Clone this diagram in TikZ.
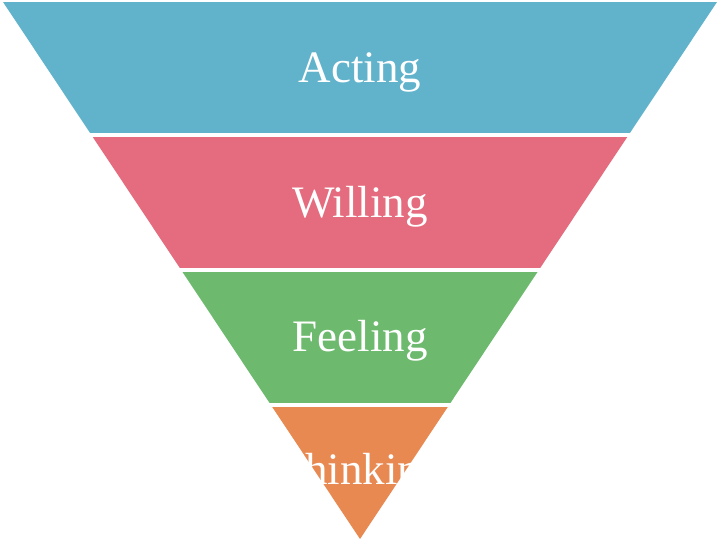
\documentclass[tikz,border=0pt]{standalone}
\usepackage{fontspec}
\setmainfont{Liberation Serif}
\definecolor{fnblue}{RGB}{97,179,204}
\definecolor{fnpink}{RGB}{229,108,126}
\definecolor{fngreen}{RGB}{109,185,110}
\definecolor{fnorange}{RGB}{232,137,82}
\begin{document}
\begin{tikzpicture}[x=0.025cm,y=0.025cm,
      lbl/.style={text=white,font=\fontsize{32}{36}\selectfont}]
      \useasboundingbox (0,0) rectangle (720,540);
      \begin{scope}
        \clip (3,538) -- (717,538) -- (360,1) -- cycle;
        \fill[fnblue] (0,407) rectangle (720,538);
        \fill[fnpink] (0,272) rectangle (720,403);
        \fill[fngreen] (0,137) rectangle (720,268);
        \fill[fnorange] (0,0) rectangle (720,133);
      \end{scope}
      \node[lbl] (act) at (360,468) {Acting};
      \node[lbl] (will) at (360,333) {Willing};
      \node[lbl] (feel) at (360,199) {Feeling};
      \node[lbl] (think) at (360,66) {Thinking};
    \end{tikzpicture}
\end{document}
